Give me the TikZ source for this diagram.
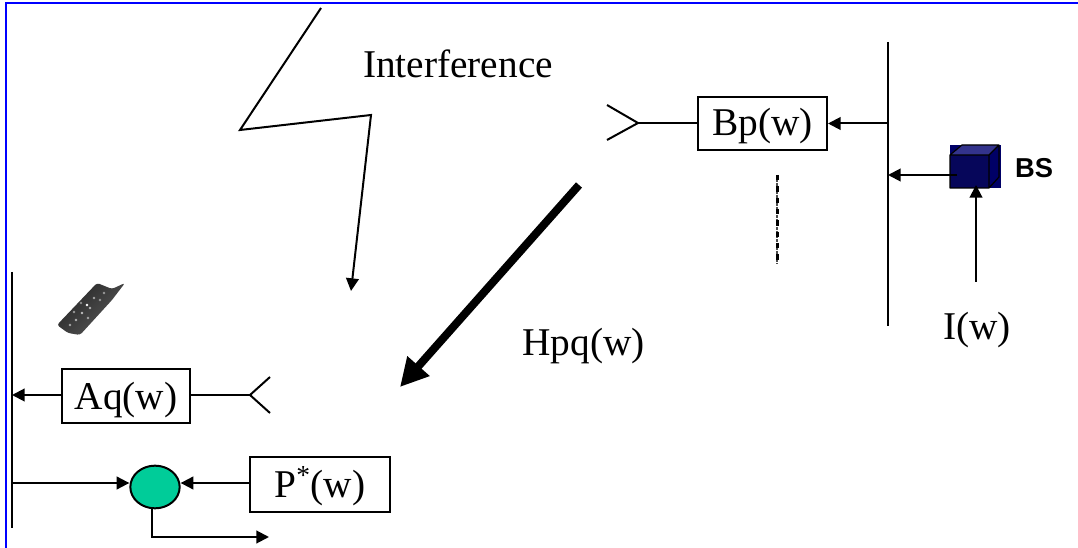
\documentclass[tikz,border=0pt]{standalone}
\usepackage{fontspec}
\setmainfont{Liberation Serif}
\newfontfamily\bsfont{Liberation Sans}
\usetikzlibrary{arrows.meta,shapes.geometric}
\definecolor{frameblue}{RGB}{0,0,255}
\definecolor{sumgreen}{RGB}{0,204,153}
\definecolor{cubefront}{RGB}{6,6,90}
\definecolor{cubeback}{RGB}{0,0,102}
\definecolor{cubetop}{RGB}{51,51,140}
\tikzset{
  x=0.75pt,y=-0.75pt,
  wire/.style={draw=black,line width=1.5pt},
  sig/.style={wire,-{Triangle[length=9.5pt,width=9.5pt]}},
  box/.style={draw=black,line width=1.5pt,fill=white,inner sep=0pt,font=\fontsize{29.5}{31}\selectfont},
  label/.style={inner sep=0pt,font=\fontsize{29.5}{31}\selectfont},
  bus/.style={draw=black,line width=1.6pt},
}
\begin{document}
\begin{tikzpicture}
\useasboundingbox (0,0) rectangle (1078,548);
\fill[white] (0,0) rectangle (1078,548);
% frame
\draw[frameblue,line width=1.7pt] (6,548) -- (6,3) -- (1078,3);
% lightning
\coordinate (z0) at (321,8);
\coordinate (z1) at (240,130);
\coordinate (z2) at (371,115);
\coordinate (z3) at (351,291);
\draw[sig] (z0) -- (z1) -- (z2) -- (z3);
\node[label] (interf) at (458,64) {Interference};
% buses
\coordinate (rt) at (888,42);
\coordinate (rb) at (888,326);
\coordinate (lt) at (12,272);
\coordinate (lb) at (12,528);
\draw[bus] (rt) -- (rb);
\draw[bus] (lt) -- (lb);
% boxes
\node[box,minimum width=96.75pt,minimum height=39.75pt,text height=20pt,text depth=2.4pt] (bp) at (762.5,123.5) {Bp(w)};
\node[box,minimum width=96pt,minimum height=40.5pt,text height=21pt,text depth=1pt] (aq) at (126,396) {Aq(w)};
\node[box,minimum width=105pt,minimum height=41.25pt,text height=21pt,text depth=2.2pt] (ps) at (320,484.5) {P\textsuperscript{*}(w)};
\node[draw=black,line width=1.5pt,fill=sumgreen,ellipse,minimum width=37pt,minimum height=32pt,inner sep=0pt] (sum) at (155,487) {};
% antennas
\coordinate (atip) at (638,123);
\draw[wire] (607,105) -- (atip) -- (607,140);
\draw[wire] (atip) -- (atip -| bp.west);
\coordinate (btip) at (250,395);
\draw[wire] (270,377) -- (btip) -- (270,413);
\draw[wire] (btip) -- (aq.east |- btip);
% bs cube
\fill[cubeback] (950,145) rectangle (1001,188);
\fill[cubetop] (962,145) -- (999,145) -- (989,155) -- (950,155) -- cycle;
\fill[cubefront] (950,155) rectangle (989,188);
\draw[black,line width=0.9pt,line join=round] (950,188) -- (950,155) -- (962,145) -- (999,145) -- (999,177) -- (989,188) -- cycle (950,155) -- (989,155) -- (989,188) (989,155) -- (999,145);
\coordinate (cube) at (957,175);
\node[inner sep=0pt,font=\bsfont\bfseries\fontsize{20.5}{22}\selectfont] (bs) at (1034,168) {BS};
% signals
\draw[sig] (rt |- bp) -- (bp.east);
\draw[sig] (cube) -- (rt |- cube);
\coordinate (iw0) at (976,282);
\coordinate (iw1) at (976,185);
\draw[sig] (iw0) -- (iw1);
\node[label] (iw) at (977,330) {I(w)};
\draw[sig] (aq.west |- btip) -- (lt |- btip);
\coordinate (sl) at (12,483);
\draw[sig] (sl) -- (sum.west |- sl);
\coordinate (pl) at (ps.west |- sl);
\draw[sig] (pl) -- (sum.east |- sl);
\coordinate (so) at (152,508);
\coordinate (se) at (269,537);
\draw[sig] (so) |- (se);
% dashed
\coordinate (d0) at (777,175);
\coordinate (d1) at (777,264);
\draw[black!70,line width=1pt,dash pattern=on 2pt off 1pt] (d0) -- (d1);
\draw[black,line width=2.25pt,dash pattern=on 4pt off 4.5pt] (d0) -- (d1);
% thick arrow
\coordinate (h0) at (579,185);
\coordinate (h1) at (400,387);
\draw[black,line width=6pt,-{Triangle[length=21pt,width=21pt,inset=0pt]}] (h0) -- (h1);
\node[label] (hpq) at (583.5,346) {Hpq(w)};
% phone
\shade[top color=black!85,bottom color=black!65,shading angle=45,rounded corners=2pt] (57,325) -- (97,283) -- (112,289) -- (125,283) -- (112,300) -- (80,335) -- (68,333) -- cycle;
\foreach \px/\py/\pc in {87/305/white,90/308/black!30,82/313/black!25,94/298/black!35,76/320/black!30,100/300/black!40,70/325/black!35,88/318/black!35,104/293/black!40,81/303/black!45,74/312/black!40}
  \fill[\pc] (\px,\py) circle[radius=1.4];
\end{tikzpicture}
\end{document}
